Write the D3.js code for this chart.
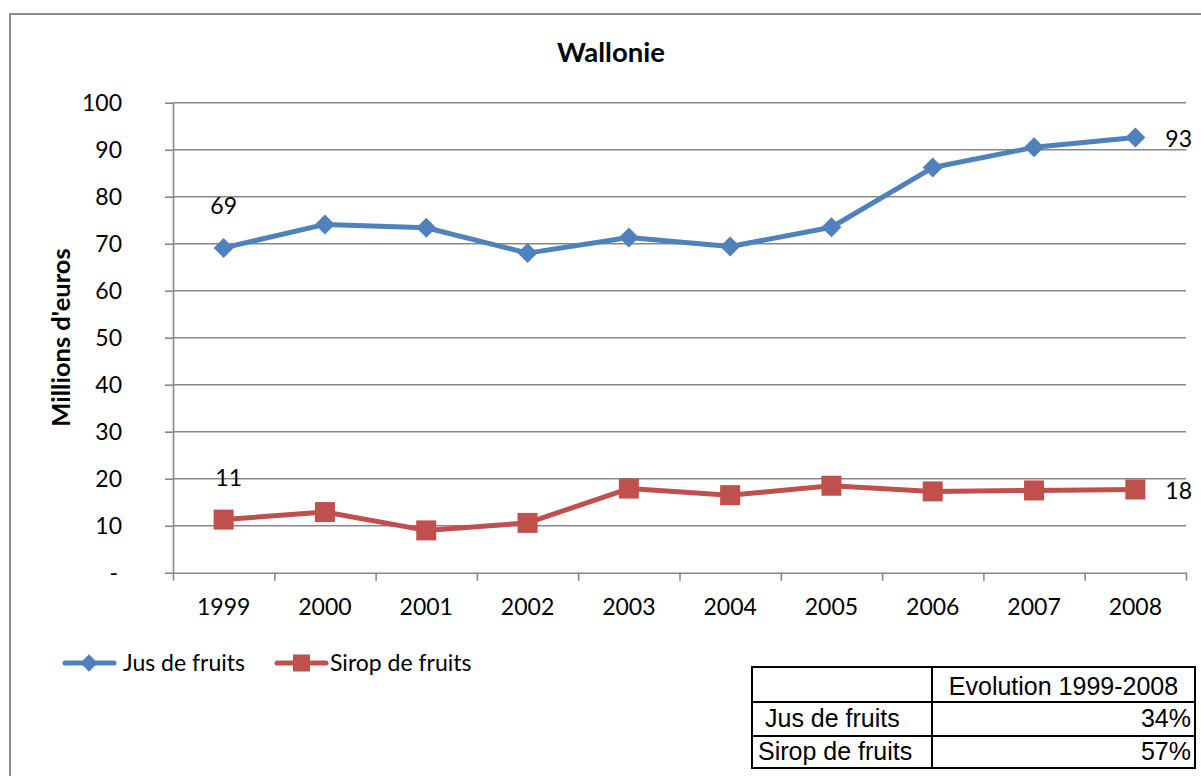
<!DOCTYPE html>
<html>
<head>
<meta charset="utf-8">
<script src="https://cdn.jsdelivr.net/npm/d3@7"></script>
<style>
  html, body { margin: 0; padding: 0; background: #fff; }
  svg { display: block; }
</style>
</head>
<body>
<svg id="chart" width="1201" height="776"></svg>
<script>
// ---- data ----
const years = ["1999","2000","2001","2002","2003","2004","2005","2006","2007","2008"];
const jusDeFruits = [69.1, 74.1, 73.4, 68.0, 71.3, 69.4, 73.5, 86.2, 90.5, 92.6];
const siropDeFruits = [11.3, 12.9, 9.0, 10.6, 17.9, 16.5, 18.5, 17.3, 17.5, 17.7];
const yTicks = [0, 10, 20, 30, 40, 50, 60, 70, 80, 90, 100];
const seriesNames = ["Jus de fruits", "Sirop de fruits"];
const tableHeader = ["", "Evolution 1999-2008"];
const tableRows = [["Jus de fruits", "34%"], ["Sirop de fruits", "57%"]];
const chartTitle = "Wallonie";
const yTitle = "Millions d'euros";

// ---- layout ----
const svg = d3.select("#chart");
const pLeft = 173, pRight = 1186, pTop = 102.7, pBottom = 572.7;
const blue = "#4F81BD", red = "#C0504D", grid = "#878787";
const font = "Lato, 'Open Sans', sans-serif";

// outer chart border (cropped on right/bottom)
svg.append("rect").attr("x", 10).attr("y", 14).attr("width", 1240).attr("height", 800)
  .attr("fill", "none").attr("stroke", "#8c8c8c").attr("stroke-width", 2);

const x = d3.scaleBand().domain(years).range([pLeft, pRight]).padding(0);
const xi = d3.scaleLinear().domain([0, years.length]).range([pLeft, pRight]);
const y = d3.scaleLinear().domain([0, 100]).range([pBottom, pTop]);

// gridlines
svg.append("g").selectAll("line").data(yTicks.filter(d => d > 0)).join("line")
  .attr("x1", pLeft).attr("x2", pRight)
  .attr("y1", d => y(d)).attr("y2", d => y(d))
  .attr("stroke", grid).attr("stroke-width", 1.6);

// y axis
const yAxis = svg.append("g").attr("transform", `translate(${pLeft},0)`)
  .call(d3.axisLeft(y).tickValues(yTicks).tickSize(8).tickSizeOuter(0).tickPadding(43)
    .tickFormat(d => d === 0 ? "-" : d));
yAxis.select(".domain").attr("stroke", grid).attr("stroke-width", 1.6);
yAxis.selectAll(".tick line").attr("stroke", grid).attr("stroke-width", 1.6);
yAxis.selectAll(".tick text").attr("font-family", font).attr("font-size", 23).attr("fill", "#000")
  .attr("dy", "0.36em");
yAxis.selectAll(".tick text").filter(d => d === 0).attr("x", -55);

// x axis tick marks (between categories)
const xTickAxis = svg.append("g").attr("transform", `translate(0,${pBottom})`)
  .call(d3.axisBottom(xi).ticks(years.length).tickSize(8).tickSizeOuter(0).tickFormat(""));
xTickAxis.select(".domain").attr("stroke", grid).attr("stroke-width", 1.6);
xTickAxis.selectAll(".tick line").attr("stroke", grid).attr("stroke-width", 1.6);

// x axis labels
const xAxis = svg.append("g").attr("transform", `translate(0,${pBottom})`)
  .call(d3.axisBottom(x).tickSize(0).tickSizeOuter(0));
xAxis.select(".domain").remove();
xAxis.selectAll(".tick text").attr("font-family", font).attr("font-size", 23).attr("fill", "#000")
  .attr("y", 42).attr("dy", 0);

// lines
const line = d3.line().x((d, i) => x(years[i]) + x.bandwidth() / 2).y(d => y(d));
svg.append("path").datum(jusDeFruits).attr("d", line).attr("fill", "none")
  .attr("stroke", blue).attr("stroke-width", 5).attr("stroke-linejoin", "round");
svg.append("path").datum(siropDeFruits).attr("d", line).attr("fill", "none")
  .attr("stroke", red).attr("stroke-width", 5).attr("stroke-linejoin", "round");

// markers
const cx = i => x(years[i]) + x.bandwidth() / 2;
svg.append("g").selectAll("path").data(jusDeFruits).join("path")
  .attr("d", d3.symbol(d3.symbolSquare, 200))
  .attr("transform", (d, i) => `translate(${cx(i)},${y(d)}) rotate(45)`)
  .attr("fill", blue);
svg.append("g").selectAll("rect").data(siropDeFruits).join("rect")
  .attr("x", (d, i) => cx(i) - 10).attr("y", d => y(d) - 10)
  .attr("width", 20).attr("height", 20).attr("fill", red);

// data labels
const lab = (txt, xx, yy, anchor) => svg.append("text").attr("x", xx).attr("y", yy)
  .attr("text-anchor", anchor).attr("font-family", font).attr("font-size", 23).attr("fill", "#000").text(txt);
lab(d3.format(".0f")(jusDeFruits[0]), cx(0), y(jusDeFruits[0]) - 34, "middle");
lab(d3.format(".0f")(siropDeFruits[0]), cx(0) + 5, y(siropDeFruits[0]) - 34, "middle");
const n = years.length - 1;
lab(d3.format(".0f")(jusDeFruits[n]), cx(n) + 30, y(jusDeFruits[n]) + 10, "start");
lab(d3.format(".0f")(siropDeFruits[n]), cx(n) + 30, y(siropDeFruits[n]) + 9, "start");

// title
svg.append("text").attr("x", 611).attr("y", 62).attr("text-anchor", "middle")
  .attr("font-family", font).attr("font-weight", "bold").attr("font-size", 27.5).text(chartTitle);
svg.append("text").attr("transform", "translate(70,337.5) rotate(-90)").attr("text-anchor", "middle")
  .attr("font-family", font).attr("font-weight", "bold").attr("font-size", 25.5).text(yTitle);

// legend
const lg = svg.append("g");
const ly = 663;
lg.append("line").attr("x1", 65).attr("x2", 114).attr("y1", ly).attr("y2", ly)
  .attr("stroke", blue).attr("stroke-width", 5).attr("stroke-linecap", "round");
lg.append("path").attr("d", d3.symbol(d3.symbolSquare, 150))
  .attr("transform", `translate(89,${ly}) rotate(45)`).attr("fill", blue);
lg.append("text").attr("x", 123).attr("y", ly + 8).attr("font-family", font).attr("font-size", 23).text(seriesNames[0]);
lg.append("line").attr("x1", 277).attr("x2", 326).attr("y1", ly).attr("y2", ly)
  .attr("stroke", red).attr("stroke-width", 5).attr("stroke-linecap", "round");
lg.append("rect").attr("x", 293).attr("y", ly - 8.5).attr("width", 17).attr("height", 17).attr("fill", red);
lg.append("text").attr("x", 330).attr("y", ly + 8).attr("font-family", font).attr("font-size", 23).text(seriesNames[1]);

// table
const tf = "'Liberation Sans', Arial, sans-serif";
const tfs = 25;
const tx0 = 752, tx1 = 932, tx2 = 1195;
const ty = [667, 702, 736, 768];
const tg = svg.append("g");
tg.append("rect").attr("x", tx0).attr("y", ty[0]).attr("width", tx2 - tx0).attr("height", ty[3] - ty[0])
  .attr("fill", "none").attr("stroke", "#000").attr("stroke-width", 2);
tg.append("line").attr("x1", tx1).attr("x2", tx1).attr("y1", ty[0]).attr("y2", ty[3]).attr("stroke", "#000").attr("stroke-width", 2);
[ty[1], ty[2]].forEach(v => tg.append("line").attr("x1", tx0).attr("x2", tx2).attr("y1", v).attr("y2", v)
  .attr("stroke", "#000").attr("stroke-width", 2));
tg.append("text").attr("x", (tx1 + tx2) / 2).attr("y", 695).attr("text-anchor", "middle")
  .attr("font-family", tf).attr("font-size", tfs).text(tableHeader[1]);
const rowBase = [727, 760];
tableRows.forEach((r, i) => {
  tg.append("text").attr("x", i === 0 ? 765 : 758).attr("y", rowBase[i]).attr("font-family", tf).attr("font-size", tfs).text(r[0]);
  tg.append("text").attr("x", tx2 - 4).attr("y", rowBase[i]).attr("text-anchor", "end").attr("font-family", tf).attr("font-size", tfs).text(r[1]);
});
</script>
</body>
</html>
